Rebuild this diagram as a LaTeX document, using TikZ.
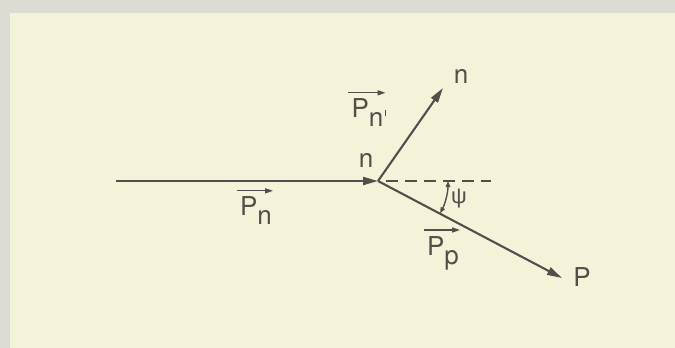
\documentclass[tikz,border=0pt]{standalone}
\usepackage{fontspec}
\setmainfont{TeX Gyre Heros}
\newfontfamily\grfont{Liberation Sans}
\usetikzlibrary{arrows.meta,calc}
\definecolor{outerbg}{HTML}{DCDCD4}
\definecolor{card}{HTML}{F3F3D9}
\definecolor{ink}{HTML}{524F4A}
\tikzset{
  vec/.style={draw=ink, line width=2.1pt, -{Triangle[length=15pt,width=8pt]}},
  lbl/.style={text=ink, font=\fontsize{26}{26}\selectfont, inner sep=0pt},
  overarrow/.style={draw=ink, line width=1.3pt, -{Triangle[length=8pt,width=5pt]}},
}
\begin{document}
\begin{tikzpicture}[x=1pt,y=-1pt]
\useasboundingbox (0,0) rectangle (675,348);
\fill[outerbg] (0,0) rectangle (675,348);
\fill[card] (10,13) rectangle (675,348);
% points
\coordinate (s) at (116,181);
\coordinate (v) at (378,181);
\coordinate (tn) at (443,88);
\coordinate (tp) at (562,278);
\coordinate (d) at (491,181);
% arrows
\draw[vec] (s) -- (v);
\draw[vec] (v) -- (tn);
\draw[vec] (v) -- (tp);
\draw[draw=ink, line width=1.8pt, dash pattern=on 12pt off 7pt] ($(v)+(8,0)$) -- (d);
\draw[draw=ink, line width=1.4pt, {Triangle[length=6pt,width=4.5pt]}-{Triangle[length=6pt,width=4.5pt]}]
  ($(v)+(70,0)$) arc[start angle=0, end angle=-27.5, radius=70pt];
% labels
\node[lbl] (nv) at (366,160) {n};
\node[lbl] (nn) at (461,76) {n};
\node[lbl] (pp) at (582,277) {P};
\node[lbl] (psi) at (459,199) {\grfont\fontsize{22}{22}\selectfont ψ};
\node[lbl] (lpn) at (256,211) {P\raisebox{-9pt}{n}};
\draw[overarrow] ([xshift=-3pt,yshift=6pt]lpn.north west) -- ([xshift=1pt,yshift=6pt]lpn.north east);
\node[lbl] (lpnp) at (369,113) {P\raisebox{-9pt}{n\kern1.5pt\raisebox{11pt}{\rule{1.4pt}{6pt}}}};
\draw[overarrow] ([xshift=-3pt,yshift=6pt]lpnp.north west) -- ([xshift=-1pt,yshift=6pt]lpnp.north east);
\node[lbl] (lpp) at (443,253) {P\raisebox{-9pt}{p}};
\draw[overarrow] ([xshift=-3pt,yshift=6pt]lpp.north west) -- ([xshift=1pt,yshift=6pt]lpp.north east);
\end{tikzpicture}
\end{document}
